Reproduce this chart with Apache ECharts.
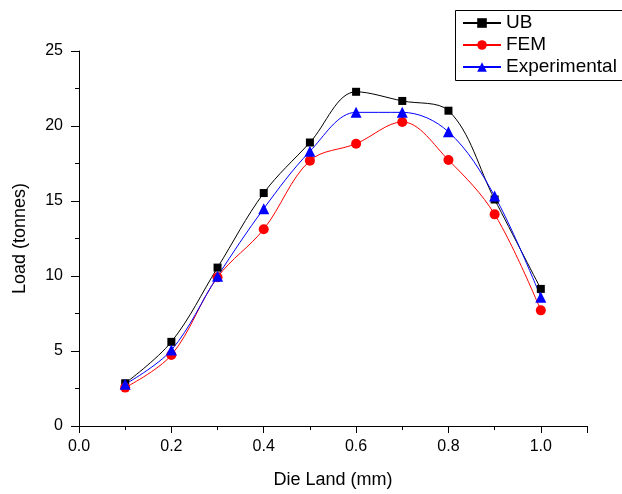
<!DOCTYPE html>
<html>
<head>
<meta charset="utf-8">
<script src="https://cdn.jsdelivr.net/npm/echarts@6/dist/echarts.min.js"></script>
<style>
html,body{margin:0;padding:0;background:#fff;}
#chart{width:622px;height:494px;}
</style>
</head>
<body>
<div id="chart"></div>
<script>
var dieLand = [0.1, 0.2, 0.3, 0.4, 0.5, 0.6, 0.7, 0.8, 0.9, 1.0];
var ubLoad = [2.85, 5.61, 10.56, 15.53, 18.9, 22.28, 21.67, 21.02, 15.1, 9.14];
var femLoad = [2.56, 4.73, 9.92, 13.12, 17.69, 18.82, 20.27, 17.73, 14.11, 7.71];
var expLoad = [2.78, 5.06, 9.98, 14.49, 18.31, 20.91, 20.91, 19.61, 15.33, 8.59];
var seriesNames = ['UB', 'FEM', 'Experimental'];

function pairs(xs, ys) { return xs.map(function (x, i) { return [x, ys[i]]; }); }

var FONT = '"Liberation Sans", Arial, sans-serif';
var chart = echarts.init(document.getElementById('chart'), null, {renderer: 'canvas'});

function mk(name, data, color, symbol, size) {
  return {
    name: name, type: 'line', data: pairs(dieLand, data),
    smooth: 0.35, symbol: symbol, symbolSize: size,
    lineStyle: {color: color, width: 1},
    itemStyle: {color: color},
    animation: false
  };
}

chart.setOption({
  backgroundColor: '#fff',
  animation: false,
  grid: {left: 79, right: 35, top: 51, bottom: 66, containLabel: false},
  graphic: [{
    type: 'rect', z: 0,
    shape: {x: 455.5, y: 10.5, width: 220, height: 70},
    style: {fill: 'none', stroke: '#000', lineWidth: 1}
  }],
  legend: {
    orient: 'vertical', left: 455, top: 11,
    data: seriesNames,
    itemWidth: 38, itemHeight: 12, itemGap: 2,
    padding: [2, 0, 3, 7],
    textStyle: {fontFamily: FONT, fontSize: 19, color: '#000', lineHeight: 20}
  },
  xAxis: {
    type: 'value', min: 0, max: 1.1, interval: 0.2,
    name: 'Die Land (mm)', nameLocation: 'middle', nameGap: 45,
    nameTextStyle: {fontFamily: FONT, fontSize: 18, color: '#000'},
    axisLine: {show: true, onZero: false, lineStyle: {color: '#000', width: 1}},
    axisTick: {show: true, inside: false, length: 7, lineStyle: {color: '#000'}},
    minorTick: {show: true, splitNumber: 2, length: 4, lineStyle: {color: '#000'}},
    splitLine: {show: false},
    axisLabel: {fontFamily: FONT, fontSize: 16, color: '#000', margin: 13, showMaxLabel: false,
      formatter: function (v) { return Math.abs(Math.round(v * 10) % 2) === 0 ? v.toFixed(1) : ''; }}
  },
  yAxis: {
    type: 'value', min: 0, max: 25, interval: 5,
    name: 'Load (tonnes)', nameLocation: 'middle', nameGap: 50,
    nameTextStyle: {fontFamily: FONT, fontSize: 18, color: '#000'},
    axisLine: {show: true, onZero: false, lineStyle: {color: '#000', width: 1}},
    axisTick: {show: true, inside: false, length: 8, lineStyle: {color: '#000'}},
    minorTick: {show: true, splitNumber: 2, length: 4, lineStyle: {color: '#000'}},
    splitLine: {show: false},
    axisLabel: {fontFamily: FONT, fontSize: 16, color: '#000', margin: 16}
  },
  series: [
    mk('UB', ubLoad, '#000000', 'rect', 8),
    mk('FEM', femLoad, '#ff0000', 'circle', 10),
    mk('Experimental', expLoad, '#0000ff', 'triangle', 11)
  ]
});
</script>
</body>
</html>
